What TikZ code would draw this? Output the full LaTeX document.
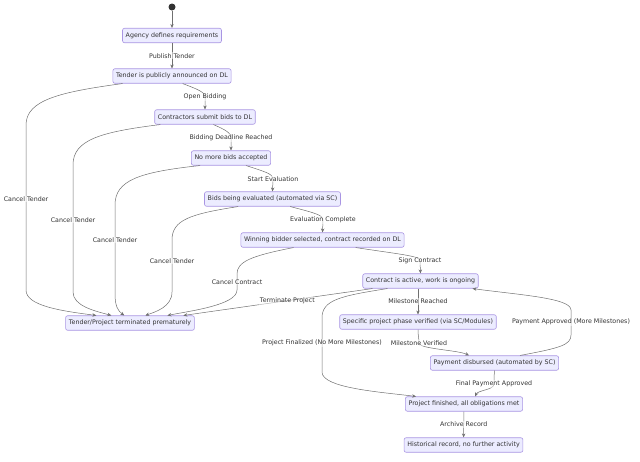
\documentclass[tikz,border=0pt]{standalone}
\usepackage{fontspec}
\setmainfont{DejaVu Sans}
\usetikzlibrary{arrows.meta}

\definecolor{statefill}{HTML}{ECECFF}
\definecolor{stateline}{HTML}{A995E3}
\definecolor{ink}{HTML}{333333}

\begin{document}
\begin{tikzpicture}[x=1pt,y=-1pt,
    state/.style={draw=stateline, fill=statefill, rounded corners=2pt, line width=0.6pt,
        inner xsep=3.2pt, inner ysep=0pt, minimum height=14.5pt,
        font=\fontsize{6.3}{7}\selectfont, text=ink},
    edge/.style={draw=ink!70, line width=0.5pt, -{Stealth[length=4pt,width=3.4pt]}},
    lbl/.style={font=\fontsize{6.3}{7}\selectfont, text=ink, inner sep=1pt,
        fill=white, fill opacity=0.5, text opacity=1}]

    \useasboundingbox (0,0) rectangle (640,461);

    % Place the start point and the main chain of states
    \node[circle,fill=ink,inner sep=0pt,minimum size=7pt] (start) at (172,7) {};
    \node[state] (agency)   at (172,35.5) {Agency defines requirements};
    \node[state] (tender)   at (172,76)   {Tender is publicly announced on DL};
    \node[state] (bids)     at (205,117)  {Contractors submit bids to DL};
    \node[state] (closed)   at (231,158)  {No more bids accepted};
    \node[state] (eval)     at (272.5,199) {Bids being evaluated (automated via SC)};
    \node[state] (winner)   at (322.5,240) {Winning bidder selected, contract recorded on DL};
    \node[state] (active)   at (420.5,281) {Contract is active, work is ongoing};

    % Place the other states
    \node[state] (term)     at (130,323)  {Tender/Project terminated prematurely};
    \node[state] (phase)    at (418,322)  {Specific project phase verified (via SC/Modules)};
    \node[state] (payment)  at (494.5,363) {Payment disbursed (automated by SC)};
    \node[state] (finished) at (464,404)  {Project finished, all obligations met};
    \node[state] (archive)  at (463.5,445) {Historical record, no further activity};

    % Main chain
    \draw[edge] (start) -- (agency);
    \draw[edge] (agency) -- node[lbl]{Publish Tender} (tender);
    \draw[edge] ([xshift=70pt]tender.south west) .. controls (197,89) and (205,92) .. (205,97)
        node[lbl]{Open Bidding} -- (bids.north);
    \draw[edge] ([xshift=59pt]bids.south west) .. controls (226,130) and (231,133) .. (231,138)
        node[lbl]{Bidding Deadline Reached} -- (closed.north);
    \draw[edge] ([xshift=55pt]closed.south west) .. controls (266,172) and (273,174) .. (273,179)
        node[lbl]{Start Evaluation} -- (eval.north);
    \draw[edge] ([xshift=86pt]eval.south west) .. controls (315,213) and (323,215) .. (323,220)
        node[lbl]{Evaluation Complete} -- (winner.north);
    \draw[edge] ([xshift=115pt]winner.south west) .. controls (405,255) and (420,256) .. (420,261)
        node[lbl]{Sign Contract} -- (active.north);

    % Cancel edges into the terminated state
    \draw[edge] ([xshift=10pt]tender.south west) .. controls (60,92) and (26,100) .. (26,125)
        -- (26,199) node[lbl]{Cancel Tender}
        -- (26,290) .. controls (26,306) and (62,311) .. ([xshift=31pt]term.north west);
    \draw[edge] ([xshift=6pt]bids.south west) .. controls (100,132) and (73,140) .. (73,165)
        -- (73,220) node[lbl]{Cancel Tender}
        -- (73,292) .. controls (73,306) and (95,311) .. ([xshift=46pt]term.north west);
    \draw[edge] ([xshift=9pt]closed.south west) .. controls (140,172) and (115,180) .. (115,205)
        -- (115,240) node[lbl]{Cancel Tender}
        -- (115,294) .. controls (115,306) and (118,311) .. ([xshift=59pt]term.north west);
    \draw[edge] ([xshift=34pt]eval.south west) .. controls (190,214) and (172,220) .. (172,240)
        -- (172,261) node[lbl]{Cancel Tender}
        -- (172,292) .. controls (172,307) and (155,312) .. ([xshift=80pt]term.north west);
    \draw[edge] ([xshift=53pt]winner.south west) .. controls (250,256) and (237,262) .. (237,274)
        -- (237,282) node[lbl]{Cancel Contract}
        -- (237,290) .. controls (237,305) and (190,311) .. ([xshift=102pt]term.north west);
    \draw[edge] ([xshift=10pt]active.south west) -- node[lbl,pos=0.45]{Terminate Project}
        ([xshift=118pt]term.north west);

    % Milestone loop
    \draw[edge] (phase.north |- active.south) -- node[lbl]{Milestone Reached} (phase.north);
    \draw[edge] (phase.south) .. controls (418,336) and (419,338) .. (419,343)
        node[lbl]{Milestone Verified}
        .. controls (419,349) and (458,350) .. ([xshift=39pt]payment.north west);
    \draw[edge] ([xshift=90pt]payment.north west) .. controls (560,348) and (571,345) .. (571,335)
        -- (571,322) node[lbl]{Payment Approved (More Milestones)}
        -- (571,310) .. controls (571,298) and (520,295) .. ([xshift=110pt]active.south west);

    % Finishing the project
    \draw[edge] ([xshift=25pt]active.south west) .. controls (340,296) and (322,300) .. (322,318)
        -- (322,343) node[lbl]{Project Finalized (No More Milestones)}
        -- (322,372) .. controls (322,388) and (380,392) .. ([xshift=11pt]finished.north west);
    \draw[edge] (payment.south) .. controls (494,377) and (494,380) .. (494,384)
        node[lbl]{Final Payment Approved}
        .. controls (494,390) and (478,390) .. ([xshift=70pt]finished.north west);
    \draw[edge] (finished) -- node[lbl]{Archive Record} (archive);

\end{tikzpicture}
\end{document}
